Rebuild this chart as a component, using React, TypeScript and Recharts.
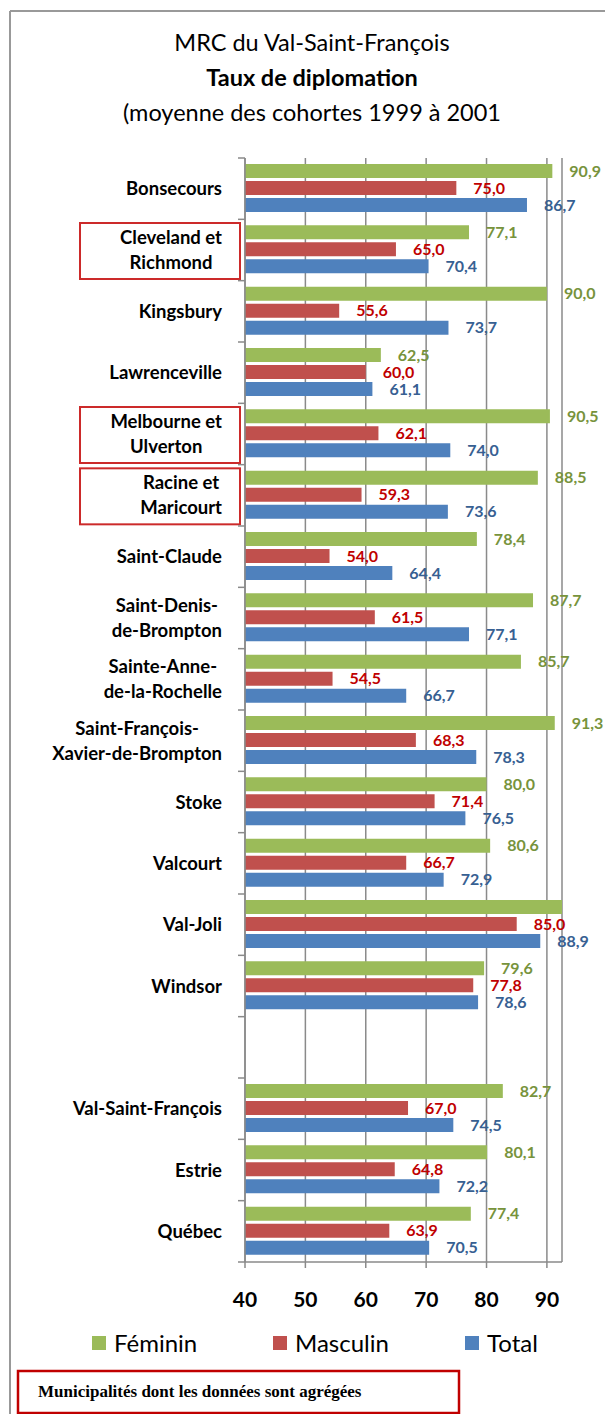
import { BarChart, Bar, XAxis, YAxis, CartesianGrid, LabelList } from "recharts";

const CATEGORIES = [
  "Bonsecours",
  "Cleveland et\nRichmond",
  "Kingsbury",
  "Lawrenceville",
  "Melbourne et\nUlverton",
  "Racine et\nMaricourt",
  "Saint-Claude",
  "Saint-Denis-\nde-Brompton",
  "Sainte-Anne-\nde-la-Rochelle",
  "Saint-François-\nXavier-de-Brompton",
  "Stoke",
  "Valcourt",
  "Val-Joli",
  "Windsor",
  "",
  "Val-Saint-François",
  "Estrie",
  "Québec",
];
const FEMININ = [90.9, 77.1, 90.0, 62.5, 90.5, 88.5, 78.4, 87.7, 85.7, 91.3, 80.0, 80.6, 100.0, 79.6, null, 82.7, 80.1, 77.4];
const MASCULIN = [75.0, 65.0, 55.6, 60.0, 62.1, 59.3, 54.0, 61.5, 54.5, 68.3, 71.4, 66.7, 85.0, 77.8, null, 67.0, 64.8, 63.9];
const TOTAL = [86.7, 70.4, 73.7, 61.1, 74.0, 73.6, 64.4, 77.1, 66.7, 78.3, 76.5, 72.9, 88.9, 78.6, null, 74.5, 72.2, 70.5];
const AGGREGATED = ["Cleveland et\nRichmond", "Melbourne et\nUlverton", "Racine et\nMaricourt"];
const X_TICKS = [40, 50, 60, 70, 80, 90];

const SERIES = [
  { key: "feminin", name: "Féminin", fill: "#9BBB59", labelColor: "#77933C" },
  { key: "masculin", name: "Masculin", fill: "#C0504D", labelColor: "#C00000" },
  { key: "total", name: "Total", fill: "#4F81BD", labelColor: "#376092" },
];

const rows = CATEGORIES.map((name, i) => ({
  name,
  feminin: FEMININ[i],
  masculin: MASCULIN[i],
  total: TOTAL[i],
}));

const W = 605;
const H = 1414;
const PLOT_TOP = 158;
const PLOT_BOTTOM = 1262;
const PLOT_LEFT = 245;
const PLOT_RIGHT = 562;
const BAND = (PLOT_BOTTOM - PLOT_TOP) / CATEGORIES.length;
const GRID = "#8a8a8a";
const FONT = "Lato, 'Open Sans', sans-serif";
const CAT_SIZE = 18.5;

let ctx: CanvasRenderingContext2D | null = null;
function measure(text: string, font: string) {
  if (!ctx) ctx = document.createElement("canvas").getContext("2d");
  if (!ctx) return text.length * 9;
  ctx.font = font;
  return ctx.measureText(text).width;
}

const fmt = (v: number) => v.toFixed(1).replace(".", ",");

function CategoryTick(props: any) {
  const { x, y, payload, index } = props;
  const label = String(payload.value ?? "");
  const lines = label ? label.split("\n") : [];
  const right = x - 23;
  const maxW = Math.max(0, ...lines.map((l) => measure(l, `bold ${CAT_SIZE}px Lato`)));
  const cx = right - maxW / 2;
  const lineH = 25;
  const firstBase = y - ((lines.length - 1) * lineH) / 2 + CAT_SIZE * 0.36;
  return (
    <g>
      <line x1={x - 7} x2={x} y1={y - BAND / 2} y2={y - BAND / 2} stroke={GRID} strokeWidth={1.5} />
      {index === CATEGORIES.length - 1 && (
        <line x1={x - 7} x2={x} y1={y + BAND / 2} y2={y + BAND / 2} stroke={GRID} strokeWidth={1.5} />
      )}
      {AGGREGATED.includes(label) && (
        <rect x={80} y={y - 27} width={160} height={56} fill="none" stroke="#CC2A2A" strokeWidth={2} />
      )}
      <text textAnchor="middle" fontFamily={FONT} fontWeight={700} fontSize={CAT_SIZE} fill="#000">
        {lines.map((l, i) => (
          <tspan key={i} x={cx} y={firstBase + i * lineH}>
            {l}
          </tspan>
        ))}
      </text>
    </g>
  );
}

const valueLabel = (color: string) => (p: any) => {
  if (p.value == null) return null;
  const text = fmt(Number(p.value));
  const x = Number(p.x) + Number(p.width) + 17;
  // labels that would start past the frame edge are not visible in the source
  if (x + measure(text, "bold 16px Lato") > W) return null;
  const y = Number(p.y) + Number(p.height) / 2;
  return (
    <text x={x} y={y} dy="0.36em" fill={color} fontFamily={FONT} fontWeight={700} fontSize={16}>
      {text}
    </text>
  );
};

export default function App() {
  return (
    <div style={{ position: "absolute", left: 0, top: 0, width: W, height: H, overflow: "hidden", background: "#fff" }}>
      <svg width={W} height={H} style={{ position: "absolute", left: 0, top: 0 }}>
        <line x1={10} y1={11} x2={W} y2={11} stroke="#999" strokeWidth={2} />
        <line x1={10} y1={11} x2={10} y2={H} stroke="#999" strokeWidth={2} />
        <g fontFamily={FONT} fill="#000" textAnchor="middle">
          <text x={312} y={51} fontSize={23.5}>MRC du Val-Saint-François</text>
          <text x={312} y={86} fontSize={23.5} fontWeight={700}>Taux de diplomation</text>
          <text x={312} y={121} fontSize={23.5}>(moyenne des cohortes 1999 à 2001</text>
        </g>
      </svg>
      <div style={{ position: "absolute", left: 0, top: 0 }}>
        <BarChart
          width={W}
          height={H}
          data={rows}
          layout="vertical"
          margin={{ top: PLOT_TOP, right: W - PLOT_RIGHT, bottom: H - PLOT_BOTTOM - 40, left: 0 }}
          barCategoryGap={6}
          barGap={3}
        >
          <CartesianGrid horizontal={false} stroke={GRID} strokeWidth={1.5} />
          <XAxis
            type="number"
            domain={[40, 92.5]}
            allowDataOverflow
            ticks={X_TICKS}
            height={40}
            tickSize={6}
            tickMargin={24}
            axisLine={{ stroke: GRID, strokeWidth: 1.5 }}
            tickLine={{ stroke: GRID, strokeWidth: 1.5 }}
            tick={{ fontSize: 21, fontWeight: 700, fill: "#000", fontFamily: FONT }}
          />
          <YAxis
            type="category"
            dataKey="name"
            width={PLOT_LEFT}
            interval={0}
            tickSize={0}
            tickMargin={0}
            tickLine={false}
            axisLine={{ stroke: GRID, strokeWidth: 1.5 }}
            tick={<CategoryTick />}
          />
          {SERIES.map((s) => (
            <Bar key={s.key} dataKey={s.key} name={s.name} fill={s.fill} isAnimationActive={false}>
              <LabelList dataKey={s.key} content={valueLabel(s.labelColor)} />
            </Bar>
          ))}
        </BarChart>
      </div>
      <svg width={W} height={H} style={{ position: "absolute", left: 0, top: 0, pointerEvents: "none" }}>
        {SERIES.map((s, i) => {
          const lx = [92, 273, 465][i];
          return (
            <g key={s.key}>
              <rect x={lx} y={1336} width={14} height={14} fill={s.fill} />
              <text x={lx + 22} y={1352} fontFamily={FONT} fontSize={24} fill="#000">
                {s.name}
              </text>
            </g>
          );
        })}
        <rect x={18} y={1371} width={441} height={42} fill="#fff" stroke="#C00000" strokeWidth={2.5} />
        <text x={38} y={1397} fontFamily="'Liberation Serif', 'DejaVu Serif', serif" fontWeight={700} fontSize={17} fill="#000">
          Municipalités dont les données sont agrégées
        </text>
      </svg>
    </div>
  );
}
